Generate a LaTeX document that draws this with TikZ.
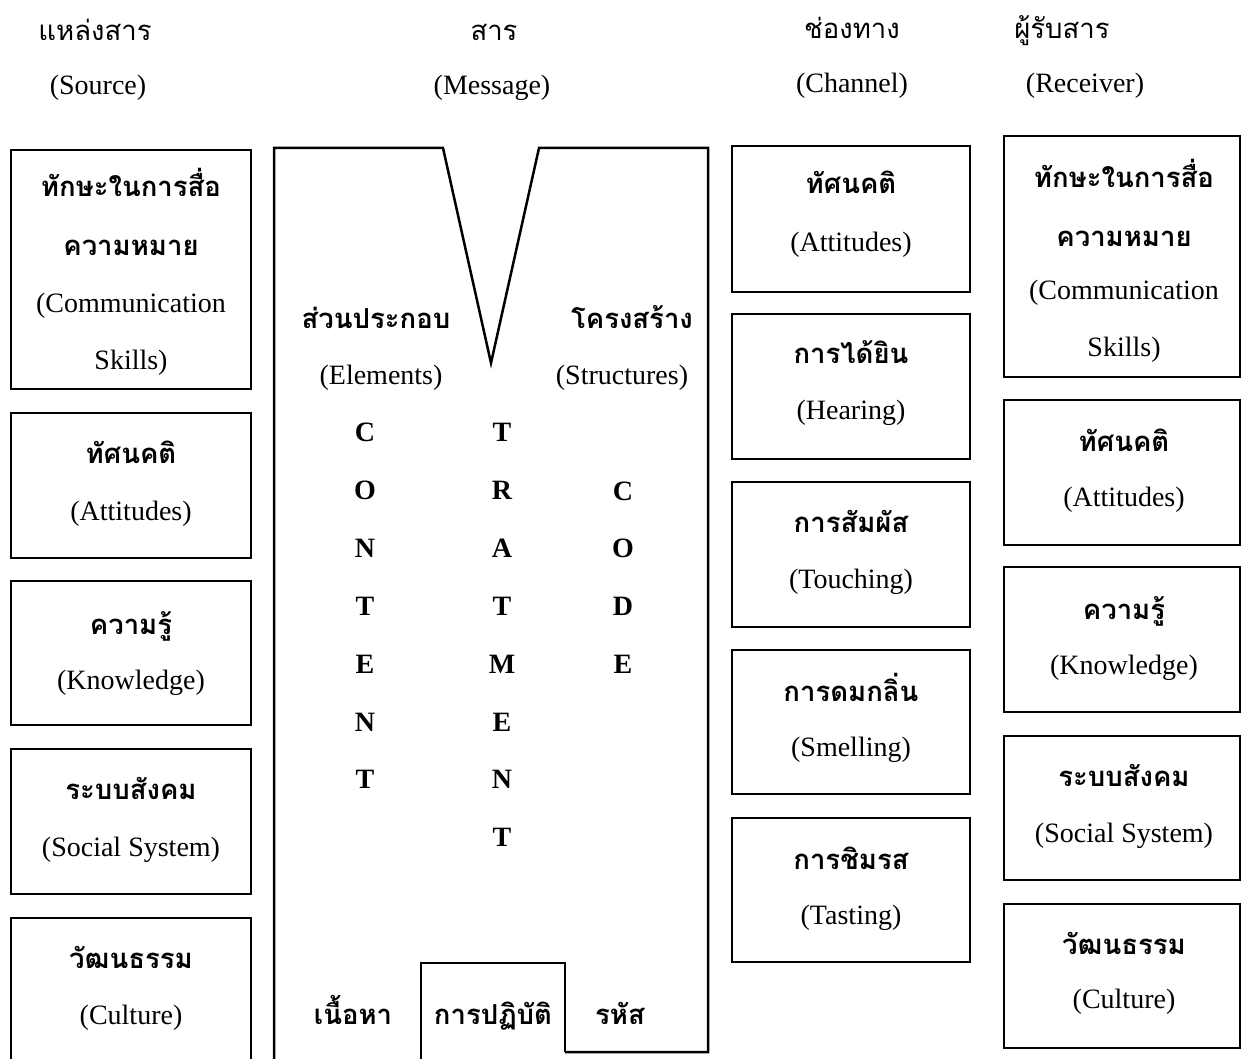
\documentclass[tikz,border=0pt]{standalone}
\usepackage{fontspec}
\setmainfont{Liberation Serif}
\newfontfamily\thaifont[Script=Thai]{Loma}
\tikzset{
  box/.style={draw, line width=2.5pt, minimum width=#1, inner sep=0pt},
  en/.style={font=\fontsize{28}{34}\selectfont, anchor=base, yshift=-7pt, inner sep=0pt},
  th/.style={font=\thaifont\bfseries\fontsize{27.5}{32}\selectfont, anchor=base, yshift=-9pt, inner sep=0pt},
  thh/.style={font=\thaifont\fontsize{27.5}{32}\selectfont, anchor=base, yshift=-9pt, inner sep=0pt},
  lt/.style={font=\fontsize{28}{34}\selectfont\bfseries, anchor=base, yshift=-9pt, inner sep=0pt},
  outline/.style={line width=2.5pt, line join=miter}
}
\begin{document}
\begin{tikzpicture}[x=1pt,y=-1pt]
\useasboundingbox (0,0) rectangle (1254,1059);
% headers
\node[thh] (hs1) at (95,32) {แหล่งสาร};
\node[en] (hs2) at (98,88) {(Source)};
\node[thh] (hm1) at (494,32) {สาร};
\node[en] (hm2) at (492,88) {(Message)};
\node[thh] (hc1) at (852,30) {ช่องทาง};
\node[en] (hc2) at (852,86) {(Channel)};
\node[thh] (hr1) at (1062,30) {ผู้รับสาร};
\node[en] (hr2) at (1085,86) {(Receiver)};
% source column
\node[box=240, minimum height=239] (s1) at (131,269.5) {};
\node[box=240, minimum height=145] (s2) at (131,485.5) {};
\node[box=240, minimum height=144] (s3) at (131,653) {};
\node[box=240, minimum height=145] (s4) at (131,821.5) {};
\node[box=240, minimum height=146] (s5) at (131,991) {};
\node[th] (s1a) at (131,188) {ทักษะในการสื่อ};
\node[th] (s1b) at (131,247) {ความหมาย};
\node[en] (s1c) at (131,306) {(Communication};
\node[en] (s1d) at (131,363) {Skills)};
\node[th] (s2a) at (131,455) {ทัศนคติ};
\node[en] (s2b) at (131,513) {(Attitudes)};
\node[th] (s3a) at (131,625) {ความรู้};
\node[en] (s3b) at (131,682) {(Knowledge)};
\node[th] (s4a) at (131,790) {ระบบสังคม};
\node[en] (s4b) at (131,849) {(Social System)};
\node[th] (s5a) at (131,959) {วัฒนธรรม};
\node[en] (s5b) at (131,1017) {(Culture)};
% message shape
\draw[outline] (274,1066) -- (274,148) -- (443,148) -- (491,363) -- (539,148)
  -- (708,148) -- (708,1052) -- (565,1052);
\draw[outline] (421,1066) -- (421,963) -- (565,963) -- (565,1052);
\node[th] (me1) at (376,320) {ส่วนประกอบ};
\node[en] (me2) at (381,378) {(Elements)};
\node[th] (ms1) at (632,320) {โครงสร้าง};
\node[en] (ms2) at (622,378) {(Structures)};
\foreach \l [count=\i] in {C,O,N,T,E,N,T}
  \node[lt] (ct\i) at (365,{433+57.8*(\i-1)}) {\l};
\foreach \l [count=\i] in {T,R,A,T,M,E,N,T}
  \node[lt] (tr\i) at (502,{433+57.8*(\i-1)}) {\l};
\foreach \l [count=\i] in {C,O,D,E}
  \node[lt] (cd\i) at (623,{491+57.8*(\i-1)}) {\l};
\node[th] (mb1) at (353,1015) {เนื้อหา};
\node[th] (mb2) at (493,1015) {การปฏิบัติ};
\node[th] (mb3) at (620,1015) {รหัส};
% channel column
\node[box=238, minimum height=146] (c1) at (851,219) {};
\node[box=238, minimum height=145] (c2) at (851,386.5) {};
\node[box=238, minimum height=145] (c3) at (851,554.5) {};
\node[box=238, minimum height=144] (c4) at (851,722) {};
\node[box=238, minimum height=144] (c5) at (851,890) {};
\node[th] (c1a) at (851,185) {ทัศนคติ};
\node[en] (c1b) at (851,245) {(Attitudes)};
\node[th] (c2a) at (851,355) {การได้ยิน};
\node[en] (c2b) at (851,413) {(Hearing)};
\node[th] (c3a) at (851,523) {การสัมผัส};
\node[en] (c3b) at (851,581) {(Touching)};
\node[th] (c4a) at (851,692) {การดมกลิ่น};
\node[en] (c4b) at (851,749) {(Smelling)};
\node[th] (c5a) at (851,860) {การชิมรส};
\node[en] (c5b) at (851,917) {(Tasting)};
% receiver column
\node[box=236, minimum height=241] (r1) at (1122,256.5) {};
\node[box=236, minimum height=145] (r2) at (1122,472.5) {};
\node[box=236, minimum height=145] (r3) at (1122,639.5) {};
\node[box=236, minimum height=144] (r4) at (1122,808) {};
\node[box=236, minimum height=144] (r5) at (1122,976) {};
\node[th] (r1a) at (1124,179) {ทักษะในการสื่อ};
\node[th] (r1b) at (1124,238) {ความหมาย};
\node[en] (r1c) at (1124,293) {(Communication};
\node[en] (r1d) at (1124,350) {Skills)};
\node[th] (r2a) at (1124,442) {ทัศนคติ};
\node[en] (r2b) at (1124,499) {(Attitudes)};
\node[th] (r3a) at (1124,610) {ความรู้};
\node[en] (r3b) at (1124,667) {(Knowledge)};
\node[th] (r4a) at (1124,777) {ระบบสังคม};
\node[en] (r4b) at (1124,835) {(Social System)};
\node[th] (r5a) at (1124,945) {วัฒนธรรม};
\node[en] (r5b) at (1124,1001) {(Culture)};
\end{tikzpicture}
\end{document}
